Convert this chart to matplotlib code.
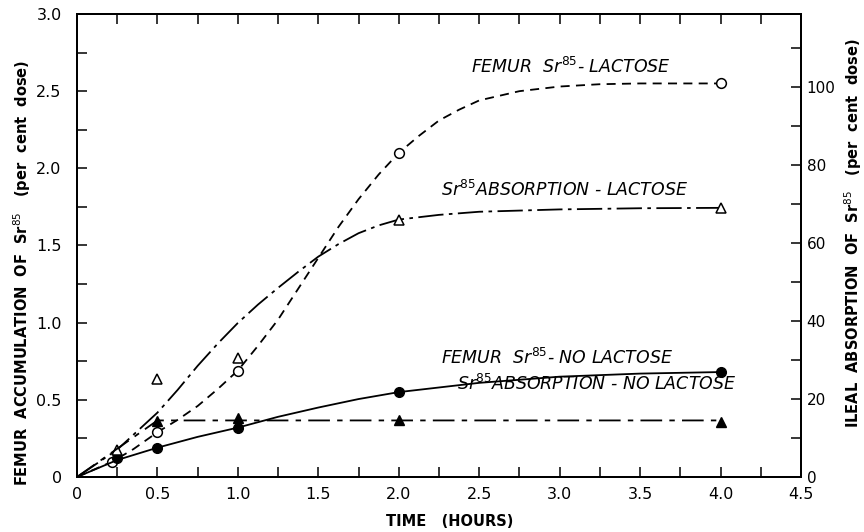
import matplotlib.pyplot as plt
from matplotlib.ticker import FixedLocator

# measured points (time in hours)
t_fem_lac = [0.22, 0.5, 1.0, 2.0, 4.0]
fem_lac = [0.10, 0.29, 0.69, 2.10, 2.55]          # femur, % dose

t_abs_lac = [0.25, 0.5, 1.0, 2.0, 4.0]
abs_lac = [7, 25, 30.5, 66, 69]                   # ileal absorption, % dose

t_fem_no = [0.25, 0.5, 1.0, 2.0, 4.0]
fem_no = [0.12, 0.19, 0.32, 0.55, 0.68]

t_abs_no = [0.5, 1.0, 2.0, 4.0]
abs_no = [14.4, 15.0, 14.6, 14.0]

# hand-drawn fitted curves
ct_fem_lac = [0, 0.22, 0.35, 0.5, 0.625, 0.75, 0.875, 1.0, 1.125, 1.25, 1.375, 1.5,
              1.625, 1.75, 1.875, 2.0, 2.125, 2.25, 2.375, 2.5, 2.75, 3.0, 3.25, 3.5, 4.0]
cv_fem_lac = [0, 0.10, 0.18, 0.29, 0.37, 0.46, 0.57, 0.69, 0.85, 1.02, 1.22, 1.42,
              1.62, 1.80, 1.96, 2.10, 2.21, 2.31, 2.38, 2.44, 2.50, 2.53, 2.545, 2.55, 2.55]

ct_abs_lac = [0, 0.25, 0.5, 0.625, 0.75, 0.875, 1.0, 1.125, 1.25, 1.375, 1.5,
              1.625, 1.75, 1.875, 2.0, 2.25, 2.5, 3.0, 3.5, 4.0]
cv_abs_lac = [0, 7.0, 16.5, 22.3, 28.5, 34.2, 39.5, 44.2, 48.5, 52.6, 56.5,
              59.7, 62.5, 64.5, 66, 67.2, 68, 68.6, 68.9, 69]

ct_fem_no = [0, 0.25, 0.5, 0.75, 1.0, 1.25, 1.5, 1.75, 2.0, 2.5, 3.0, 3.5, 4.0]
cv_fem_no = [0, 0.11, 0.19, 0.26, 0.32, 0.39, 0.45, 0.505, 0.55, 0.61, 0.65, 0.67, 0.68]

ct_abs_no = [0, 0.5, 4.0]
cv_abs_no = [0, 14.5, 14.5]

x_ticks = [0, 0.5, 1.0, 1.5, 2.0, 2.5, 3.0, 3.5, 4.0, 4.5]
x_labels = ['0', '0.5', '1.0', '1.5', '2.0', '2.5', '3.0', '3.5', '4.0', '4.5']
y_ticks = [0, 0.5, 1.0, 1.5, 2.0, 2.5, 3.0]
y_labels = ['0', '0.5', '1.0', '1.5', '2.0', '2.5', '3.0']
y2_ticks = [0, 20, 40, 60, 80, 100]

RIGHT_MAX = 118.7

fig = plt.figure(figsize=(8.64, 5.32), dpi=100)
ax = fig.add_axes([0.0891, 0.1034, 0.838, 0.8703])
ax2 = ax.twinx()

lw = 1.3
ax.plot(ct_fem_lac, cv_fem_lac, color='black', lw=lw, linestyle=(0, (5, 3.5)))
ax.plot(t_fem_lac, fem_lac, 'o', mfc='white', mec='black', ms=7, mew=1.1)

ax.plot(ct_fem_no, cv_fem_no, color='black', lw=lw)
ax.plot(t_fem_no, fem_no, 'o', color='black', ms=7)

ax2.plot(ct_abs_lac, cv_abs_lac, color='black', lw=lw, linestyle=(0, (14, 3, 2, 3)))
ax2.plot(t_abs_lac, abs_lac, '^', mfc='white', mec='black', ms=7, mew=1.1)

ax2.plot(ct_abs_no, cv_abs_no, color='black', lw=lw, linestyle=(0, (12, 4, 3, 4)))
ax2.plot(t_abs_no, abs_no, '^', color='black', ms=7)

ax.set_xlim(0, 4.5)
ax.set_ylim(0, 3.0)
ax2.set_ylim(0, RIGHT_MAX)

ax.set_xticks(x_ticks)
ax.set_xticklabels(x_labels)
ax.xaxis.set_minor_locator(FixedLocator([0.25, 0.75, 1.25, 1.75, 2.25, 2.75, 3.25, 3.75, 4.25]))
ax.set_yticks(y_ticks)
ax.set_yticklabels(y_labels)
ax.yaxis.set_minor_locator(FixedLocator([0.25, 0.75, 1.25, 1.75, 2.25, 2.75]))
ax2.set_yticks(y2_ticks)
ax2.yaxis.set_minor_locator(FixedLocator([10, 30, 50, 70, 90, 110]))

ax.tick_params(axis='both', which='both', direction='in', labelsize=11.5, width=1.1, length=7)
ax.tick_params(axis='x', which='both', top=True, pad=7)
ax.tick_params(axis='y', which='both', pad=11)
ax2.tick_params(axis='y', which='both', direction='in', length=7, width=1.1, labelsize=11, pad=4)

for a in (ax, ax2):
    for s in a.spines.values():
        s.set_linewidth(1.4)

lbl = dict(fontsize=10.5, fontweight='bold', ha='center', va='center')
fig.text(0.52, 0.019, 'TIME   (HOURS)', **lbl)
fig.text(0.026, 0.487, 'FEMUR  ACCUMULATION  OF  Sr$^{85}$   (per  cent  dose)',
         rotation=90, **lbl)
fig.text(0.988, 0.562, 'ILEAL  ABSORPTION  OF  Sr$^{85}$   (per  cent  dose)',
         rotation=90, **lbl)

note = dict(fontsize=12.5, style='italic', ha='left', va='baseline')
ax.text(2.45, 2.62, 'FEMUR  Sr$^{85}$- LACTOSE', **note)
ax2.text(2.26, 72, 'Sr$^{85}$ABSORPTION - LACTOSE', **note)
ax.text(2.26, 0.73, 'FEMUR  Sr$^{85}$- NO LACTOSE', **note)
ax2.text(2.36, 22.3, 'Sr$^{85}$ABSORPTION - NO LACTOSE', **note)

fig.savefig('out.png', dpi=100)
